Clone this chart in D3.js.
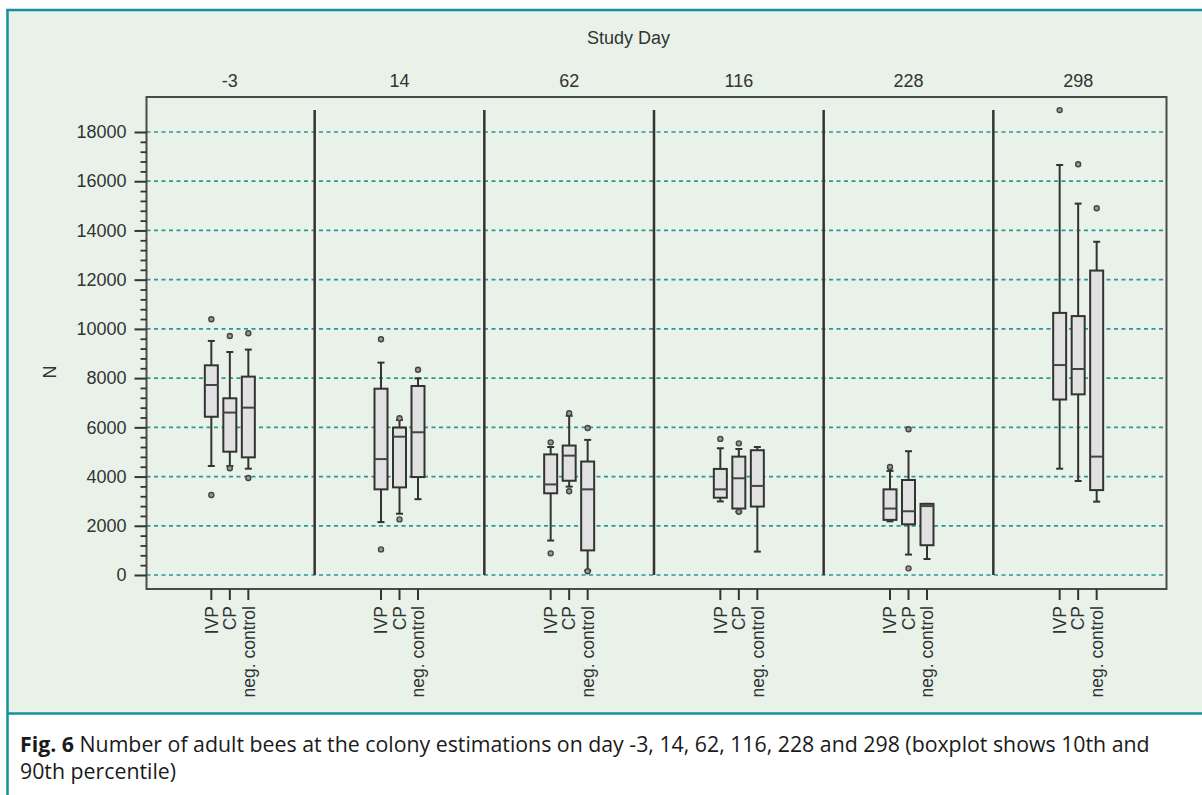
<!DOCTYPE html>
<html>
<head>
<meta charset="utf-8">
<script src="https://cdn.jsdelivr.net/npm/d3@7"></script>
<style>
  body { margin: 0; background: #fff; }
  svg { display: block; }
</style>
</head>
<body>
<script>
// values, one entry per study day, [IVP, CP, neg. control]
const days = ['-3', '14', '62', '116', '228', '298']
const groups = ['IVP', 'CP', 'neg. control']
const yTicks = [0, 2000, 4000, 6000, 8000, 10000, 12000, 14000, 16000, 18000]

const p10 = [[4430, 4430, 4320], [2150, 2490, 3080], [1400, 3590, 180], [2990, 2570, 950], [2180, 830, 650], [4320, 3820, 2980]]
const q1 = [[6430, 5010, 4780], [3480, 3560, 3980], [3320, 3830, 1000], [3140, 2700, 2780], [2240, 2060, 1210], [7130, 7340, 3450]]
const med = [[7720, 6600, 6800], [4710, 5620, 5800], [3680, 4850, 3480], [3480, 3930, 3620], [2700, 2590, 2800], [8530, 8370, 4810]]
const q3 = [[8520, 7180, 8060], [7570, 5990, 7680], [4900, 5260, 4610], [4310, 4810, 5070], [3480, 3860, 2890], [10650, 10520, 12370]]
const p90 = [[9510, 9060, 9160], [8630, 6300, 7990], [5200, 6470, 5490], [5150, 5120, 5200], [4230, 5030, 2890], [16660, 15090, 13540]]
const outliers = [
    [[10390, 3250], [9710, 4340], [9820, 3940]],
    [[9580, 1040], [6370, 2260], [8340]],
    [[5390, 880], [6570, 3400], [5970, 150]],
    [[5530], [5350, 2570], []],
    [[4390], [5920, 270], []],
    [[18890], [16690], [14900]]
]

function main(){

    let width = 1202
    let height = 795
    let left = 146.5, right = 1166.5, top = 97, bottom = 589
    let teal = '#16909a'
    let ink = '#333'
    let font = '"Liberation Sans", Arial, sans-serif'

    let svg = d3.select('body')
        .append('svg')
        .attr('width', width)
        .attr('height', height)

    // figure frame: green panel, teal rules
    svg.append('rect')
        .attr('x', 8).attr('y', 10)
        .attr('width', width - 8).attr('height', 703)
        .attr('fill', '#e9f2e9')
    svg.append('line')
        .attr('x1', 6.5).attr('x2', width).attr('y1', 10).attr('y2', 10)
        .attr('stroke', teal).attr('stroke-width', 2.5)
    svg.append('line')
        .attr('x1', 7.5).attr('x2', 7.5).attr('y1', 9).attr('y2', height)
        .attr('stroke', teal).attr('stroke-width', 2.5)
    svg.append('line')
        .attr('x1', 7).attr('x2', width).attr('y1', 713.5).attr('y2', 713.5)
        .attr('stroke', teal).attr('stroke-width', 2.5)

    let y = d3.scaleLinear()
        .domain([0, 18000])
        .range([575, 132])

    let panel = d3.scaleBand()
        .domain(days)
        .range([145, 1163])

    let offset = d3.scalePoint()
        .domain(groups)
        .range([-18.5, 18.5])

    let cx = function(di, gi){
        return panel(days[di]) + panel.bandwidth() / 2 + offset(groups[gi])
    }

    // dashed grid
    svg.append('g')
        .selectAll('line')
        .data(yTicks)
        .enter()
        .append('line')
        .attr('x1', left).attr('x2', right)
        .attr('y1', d => y(d)).attr('y2', d => y(d))
        .attr('stroke', '#2a9696')
        .attr('stroke-width', 1.7)
        .attr('stroke-dasharray', '4,3.5')

    // panel separators
    svg.append('g')
        .selectAll('line')
        .data(days.slice(1))
        .enter()
        .append('line')
        .attr('x1', d => panel(d)).attr('x2', d => panel(d))
        .attr('y1', 110).attr('y2', y(0))
        .attr('stroke', ink)
        .attr('stroke-width', 2.5)

    // plot border
    svg.append('rect')
        .attr('x', left).attr('y', top)
        .attr('width', right - left).attr('height', bottom - top)
        .attr('fill', 'none')
        .attr('stroke', '#4a4a4a')
        .attr('stroke-width', 2)

    // y axis, major + minor ticks
    let yAxis = svg.append('g')
        .attr('transform', 'translate(' + left + ',0)')
        .call(d3.axisLeft(y).tickValues(yTicks).tickSize(12).tickPadding(8).tickFormat(d3.format('d')))
    yAxis.select('.domain').remove()
    yAxis.selectAll('line').attr('stroke', ink).attr('stroke-width', 2)
    yAxis.selectAll('text')
        .attr('fill', ink)
        .style('font-family', font)
        .style('font-size', '18px')

    let minor = svg.append('g')
        .attr('transform', 'translate(' + left + ',0)')
        .call(d3.axisLeft(y).tickValues(d3.range(0, 18001, 400).filter(v => v % 2000 != 0)).tickSize(6).tickFormat(''))
    minor.select('.domain').remove()
    minor.selectAll('line').attr('stroke', ink).attr('stroke-width', 1.8)

    svg.append('text')
        .attr('transform', 'translate(50,372) rotate(-90)')
        .attr('text-anchor', 'middle')
        .attr('dy', '0.35em')
        .attr('fill', ink)
        .style('font-family', font)
        .style('font-size', '18px')
        .text('N')

    // top labels
    svg.append('text')
        .attr('x', (left + right) / 2 - 28).attr('y', 44)
        .attr('text-anchor', 'middle')
        .attr('fill', ink)
        .style('font-family', font)
        .style('font-size', '18px')
        .text('Study Day')

    svg.append('g')
        .selectAll('text')
        .data(days)
        .enter()
        .append('text')
        .attr('x', d => panel(d) + panel.bandwidth() / 2)
        .attr('y', 87)
        .attr('text-anchor', 'middle')
        .attr('fill', ink)
        .style('font-family', font)
        .style('font-size', '18px')
        .text(d => d)

    // boxes
    let cells = []
    days.forEach(function(d, di){
        groups.forEach(function(g, gi){
            cells.push({di: di, gi: gi})
        })
    })

    let box = svg.append('g')
        .selectAll('g')
        .data(cells)
        .enter()
        .append('g')
        .attr('transform', c => 'translate(' + cx(c.di, c.gi) + ',0)')

    box.append('line')      // whisker
        .attr('y1', c => y(p10[c.di][c.gi]))
        .attr('y2', c => y(p90[c.di][c.gi]))
        .attr('stroke', ink)
        .attr('stroke-width', 2)

    box.selectAll('.cap')
        .data(c => [p10[c.di][c.gi], p90[c.di][c.gi]])
        .enter()
        .append('line')
        .attr('class', 'cap')
        .attr('x1', -3.5).attr('x2', 3.5)
        .attr('y1', v => y(v)).attr('y2', v => y(v))
        .attr('stroke', ink)
        .attr('stroke-width', 2)

    box.append('rect')
        .attr('x', -6.5)
        .attr('width', 13)
        .attr('y', c => y(q3[c.di][c.gi]))
        .attr('height', c => y(q1[c.di][c.gi]) - y(q3[c.di][c.gi]))
        .attr('fill', '#e1e1e1')
        .attr('stroke', ink)
        .attr('stroke-width', 2)

    box.append('line')      // median
        .attr('x1', -6.5).attr('x2', 6.5)
        .attr('y1', c => y(med[c.di][c.gi]))
        .attr('y2', c => y(med[c.di][c.gi]))
        .attr('stroke', '#444')
        .attr('stroke-width', 2)

    box.selectAll('circle')
        .data(c => outliers[c.di][c.gi])
        .enter()
        .append('circle')
        .attr('r', 2.5)
        .attr('cy', v => y(v))
        .attr('fill', '#999')
        .attr('stroke', '#444')
        .attr('stroke-width', 1.4)

    // bottom ticks and group labels
    box.append('line')
        .attr('y1', bottom).attr('y2', 600)
        .attr('stroke', ink)
        .attr('stroke-width', 2)

    box.append('text')
        .attr('transform', 'translate(0,606) rotate(-90)')
        .attr('text-anchor', 'end')
        .attr('dy', '0.36em')
        .attr('fill', ink)
        .style('font-family', font)
        .style('font-size', '17.5px')
        .text(c => groups[c.gi])

    // caption
    let cap = svg.append('text')
        .attr('x', 20)
        .attr('fill', '#1a1a1a')
        .style('font-family', '"Open Sans", "Noto Sans", sans-serif')
        .style('font-size', '21.3px')
    let line1 = cap.append('tspan').attr('y', 752)
    line1.append('tspan').style('font-weight', 'bold').text('Fig. 6')
    line1.append('tspan').text(' Number of adult bees at the colony estimations on day -3, 14, 62, 116, 228 and 298 (boxplot shows 10th and')
    cap.append('tspan').attr('x', 20).attr('y', 779).text('90th percentile)')
}

main()
</script>
</body>
</html>
